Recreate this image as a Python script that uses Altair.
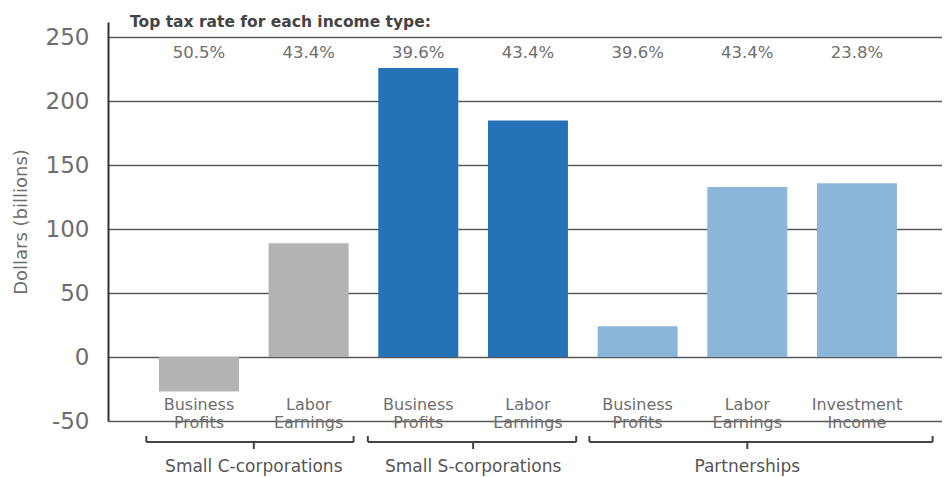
import altair as alt
import pandas as pd

# ---- data ----
categories = ["Business\nProfits", "Labor\nEarnings", "Business\nProfits", "Labor\nEarnings",
              "Business\nProfits", "Labor\nEarnings", "Investment\nIncome"]
groups = ["Small C-corporations", "Small C-corporations", "Small S-corporations",
          "Small S-corporations", "Partnerships", "Partnerships", "Partnerships"]
values = [-27, 89, 226, 185, 24, 133, 136]
rates = ["50.5%", "43.4%", "39.6%", "43.4%", "39.6%", "43.4%", "23.8%"]

group_names = ["Small C-corporations", "Small S-corporations", "Partnerships"]
bracket_start = [-0.48, 1.54, 3.56]
bracket_end = [1.41, 3.44, 6.69]
bracket_mid = [0.5, 2.5, 5.0]

y_ticks = [-50, 0, 50, 100, 150, 200, 250]
title_text = "Top tax rate for each income type:"

color_domain = group_names
color_range = ["#b3b3b3", "#2672b8", "#8cb5da"]

# ---- tables ----
bars = pd.DataFrame({"idx": list(range(len(values))), "label": categories,
                     "group": groups, "value": values, "rate": rates})
brk = pd.DataFrame({"group": group_names, "start": bracket_start,
                    "end": bracket_end, "mid": bracket_mid})
ends = pd.DataFrame({"pos": bracket_start + bracket_end})

FONT = "DejaVu Sans"
GRAY = "#6e6e6e"
W, H = 834, 399
xscale = alt.Scale(domain=[-0.7838, 6.7297], nice=False, zero=False)
yscale = alt.Scale(domain=[-50, 262], nice=False, zero=False)

base = alt.Chart(bars)

bar_layer = base.mark_bar(size=80).encode(
    x=alt.X("idx:Q", scale=xscale, axis=None),
    y=alt.Y("value:Q", scale=yscale,
            axis=alt.Axis(values=y_ticks, title="Dollars (billions)", grid=True,
                          labelExpr="'' + datum.value",
                          gridColor="#5a5a5a", gridWidth=1.6, tickSize=0,
                          domainColor="#333333", domainWidth=2,
                          labelFont=FONT, labelFontSize=23, labelColor=GRAY,
                          labelPadding=19, titleFont=FONT, titleFontSize=18,
                          titleFontWeight="normal", titleColor=GRAY,
                          titlePadding=15)),
    color=alt.Color("group:N", scale=alt.Scale(domain=color_domain, range=color_range),
                    legend=None),
)

rate_layer = base.mark_text(font=FONT, fontSize=16.5, color=GRAY,
                            baseline="middle").encode(
    x=alt.X("idx:Q", scale=xscale), y=alt.value(31), text="rate:N")

cat_layer = base.mark_text(font=FONT, fontSize=16, color=GRAY, baseline="middle",
                           lineBreak="\n", lineHeight=18).encode(
    x=alt.X("idx:Q", scale=xscale), y=alt.value(383), text="label:N")

title_layer = alt.Chart(pd.DataFrame({"t": [title_text]})).mark_text(
    font=FONT, fontSize=15.5, fontWeight="bold", color="#444444",
    align="left", baseline="middle").encode(
    x=alt.value(22), y=alt.value(0), text="t:N")

bbase = alt.Chart(brk)
hrule = bbase.mark_rule(color="#444444", strokeWidth=2).encode(
    x=alt.X("start:Q", scale=xscale), x2="end:Q", y=alt.value(420))
mid_tick = bbase.mark_rule(color="#444444", strokeWidth=2).encode(
    x=alt.X("mid:Q", scale=xscale), y=alt.value(420), y2=alt.value(427))
end_ticks = alt.Chart(ends).mark_rule(color="#444444", strokeWidth=2).encode(
    x=alt.X("pos:Q", scale=xscale), y=alt.value(414), y2=alt.value(420))
group_text = bbase.mark_text(font=FONT, fontSize=17, color="#555555",
                             baseline="middle").encode(
    x=alt.X("mid:Q", scale=xscale), y=alt.value(445), text="group:N")

chart = alt.layer(
    bar_layer, rate_layer, cat_layer, title_layer,
    hrule, mid_tick, end_ticks, group_text
).properties(
    width=W, height=H,
    autosize=alt.AutoSizeParams(type="none"),
    padding={"left": 100, "top": 14, "right": 0, "bottom": 56},
    background="white",
).configure_view(stroke=None)

chart.save("out.html", embed_options={"renderer": "svg", "actions": False})
